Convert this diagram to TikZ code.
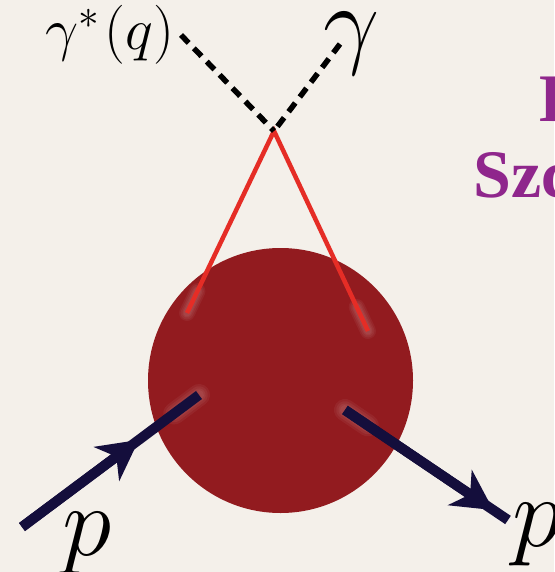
\RequirePackage{fix-cm}
\documentclass[tikz,border=0pt]{standalone}
\usepackage{fontspec}
\newfontfamily\titlefont{Liberation Serif}
\usetikzlibrary{arrows.meta,calc}
\definecolor{bg}{RGB}{244,240,234}
\definecolor{blob}{RGB}{146,27,31}
\definecolor{gluon}{RGB}{229,45,38}
\definecolor{navy}{RGB}{20,14,60}
\definecolor{purp}{RGB}{143,38,140}
\tikzset{
  photon/.style={line width=5.5pt, dash pattern=on 11pt off 7.5pt},
  quark/.style={gluon, line width=4.5pt, line join=miter},
  fermion/.style={navy, line width=10pt},
  headtip/.style={-{Stealth[length=40pt,width=42pt,inset=12pt]}},
  halo/.style={white, opacity=0.05, line cap=round},
  lbl/.style={inner sep=0pt, anchor=base west},
  title/.style={inner sep=0pt, anchor=base west, text=purp, font=\titlefont\bfseries\fontsize{68}{78}\selectfont}
}
\newcommand{\softglow}[3]{%
  \foreach \w in {#3, 0.8*#3, 0.6*#3, 0.45*#3}{\draw[halo, line width=\w pt] #1 -- #2;}}
\begin{document}
\begin{tikzpicture}[x=1pt,y=-1pt]
\fill[bg] (0,0) rectangle (554,572);
\useasboundingbox (0,0) rectangle (554,572);
\clip (0,0) rectangle (554,572);

% proton blob
\node[circle, fill=blob, minimum size=265pt, inner sep=0pt] (blob) at (280.5,380.5) {};

% coordinates
\coordinate (v) at (274,131);
\coordinate (gs) at (181,35);
\coordinate (gr) at (340,44);
\coordinate (ql) at (187,313);
\coordinate (qr) at (368,331);
\coordinate (pin) at (22,527);
\coordinate (pinE) at (199,395);
\coordinate (poS) at (345,410);
\coordinate (poE) at (508,520);

% soft glows at inner ends
\softglow{($(v)!0.88!(ql)$)}{(ql)}{16}
\softglow{($(v)!0.88!(qr)$)}{(qr)}{16}
\softglow{($(pin)!0.86!(pinE)$)}{(pinE)}{22}
\softglow{(poS)}{($(poS)!0.14!(poE)$)}{22}
\softglow{($(poS)!0.95!(poE)$)}{(poE)}{18}

% quark lines
\draw[quark] (ql) -- (v) -- (qr);

% photons
\draw[photon] (gs) -- (v);
\draw[photon] (gr) -- (v);

% proton lines
\draw[fermion] (pin) -- (pinE);
\draw[fermion, headtip] (pin) -- ($(pin)!0.66!(pinE)$);
\draw[fermion] (poS) -- (poE);
\draw[fermion, headtip] (poS) -- ($(poS)!0.91!(poE)$);

% labels
\node[lbl, font=\fontsize{59}{70}\selectfont] (gstar) at (45,50) {$\gamma^*\mkern1.5mu(q)$};
\node[lbl, font=\fontsize{100}{110}\selectfont] (greal) at (323,56) {$\gamma$};
\node[lbl, font=\fontsize{100}{110}\selectfont] (pl) at (62,555) {$p$};
\node[lbl, font=\fontsize{100}{110}\selectfont] (pr) at (512,546) {$p$};

% title (cut off)
\node[title] (t1) at (539,122) {B};
\node[title] (t2) at (473,197) {Szc};
\end{tikzpicture}
\end{document}
